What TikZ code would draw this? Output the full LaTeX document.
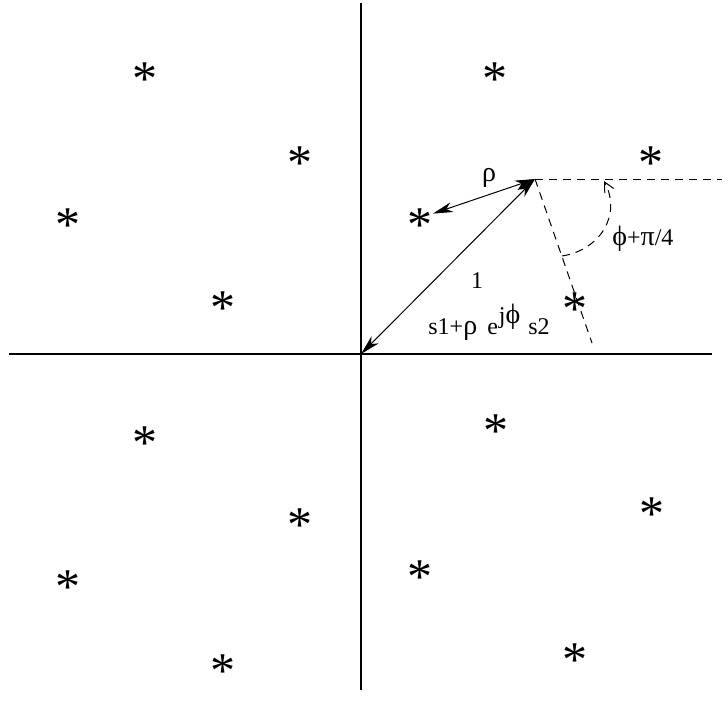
\documentclass[tikz,border=0pt]{standalone}
\usepackage{fontspec}
\setmainfont{Liberation Serif}
\usetikzlibrary{arrows.meta}

% constellation point, glyph centred on the node
\newcommand{\cpt}{\raisebox{-.46em}{*}}
% greek letters are set a little larger, as in the drawing
\newcommand{\gk}[1]{{\fontsize{14}{14}\selectfont #1}}

\begin{document}
\begin{tikzpicture}[
			x=0.5pt, y=-0.5pt,
			% Style for the axes
			axis/.style={line width=0.75pt},
			% Constellation points
			pt/.style={inner sep=0pt, text height=4pt, text depth=4pt, font=\fontsize{25}{25}\selectfont},
			% Arrows and guide lines
			dbl/.style={line width=0.5pt, {Stealth[length=10pt,width=5pt,inset=3pt]}-{Stealth[length=10pt,width=5pt,inset=3pt]}},
			guide/.style={line width=0.5pt, dash pattern=on 4pt off 3pt},
			% Text
			lbl/.style={font=\fontsize{12}{14}\selectfont, inner sep=0pt}
			]
			\useasboundingbox (0,0) rectangle (728,706);
			
			% ==============================================================================
			% AXES
			% ==============================================================================
			\coordinate (O) at (361,354);
			\coordinate (ytop) at (361,3);
			\coordinate (ybot) at (361,690);
			\coordinate (xlft) at (9,354);
			\coordinate (xrgt) at (712,354);
			\draw[axis] (ytop) -- (ybot);
			\draw[axis] (xlft) -- (xrgt);
			
			% ==============================================================================
			% CONSTELLATION POINTS
			% ==============================================================================
			% second quadrant
			\node[pt] (b1) at (145,73) {\cpt};
			\node[pt] (b2) at (300,156) {\cpt};
			\node[pt] (b3) at (68,218) {\cpt};
			\node[pt] (b4) at (223,301) {\cpt};
			% first quadrant
			\node[pt] (a1) at (495,73) {\cpt};
			\node[pt] (a2) at (651,156) {\cpt};
			\node[pt] (a3) at (420,218) {\cpt};
			\node[pt] (a4) at (575,302) {\cpt};
			% third quadrant
			\node[pt] (c1) at (145,436) {\cpt};
			\node[pt] (c2) at (300,518) {\cpt};
			\node[pt] (c3) at (68,580) {\cpt};
			\node[pt] (c4) at (223,664) {\cpt};
			% fourth quadrant
			\node[pt] (d1) at (496,424) {\cpt};
			\node[pt] (d2) at (652,507) {\cpt};
			\node[pt] (d3) at (420,570) {\cpt};
			\node[pt] (d4) at (575,653) {\cpt};
			
			% ==============================================================================
			% VECTORS AND ANGLE
			% ==============================================================================
			\coordinate (P) at (535,179);
			\coordinate (hend) at (722,179);
			\coordinate (send) at (592,343);
			\coordinate (arcA) at (562,256);
			\coordinate (arcB) at (604,181);
			
			\draw[dbl] (O) -- (P);
			\draw[dbl] (a3) -- (P);
			\draw[guide] (P) -- (hend);
			\draw[guide] (P) -- (send);
			\draw[guide, -{Straight Barb[length=5pt,width=5pt]}] (arcA) .. controls (600,250) and (622,215) .. (arcB);
			
			\node[lbl, anchor=base] (rho) at (489,181) {\gk{ρ}};
			\node[lbl, anchor=base] (one) at (477,288) {1};
			\node[lbl, anchor=base west] (ang) at (612,245) {\gk{ϕ}+\gk{π}/4};
			\node[lbl, anchor=base west] (expr) at (428,334) {s1+\gk{ρ}\hspace{5pt}e\hspace{0.5pt}\raisebox{5.5pt}{j\gk{ϕ}}\hspace{4pt}s2};
			
		\end{tikzpicture}
\end{document}
